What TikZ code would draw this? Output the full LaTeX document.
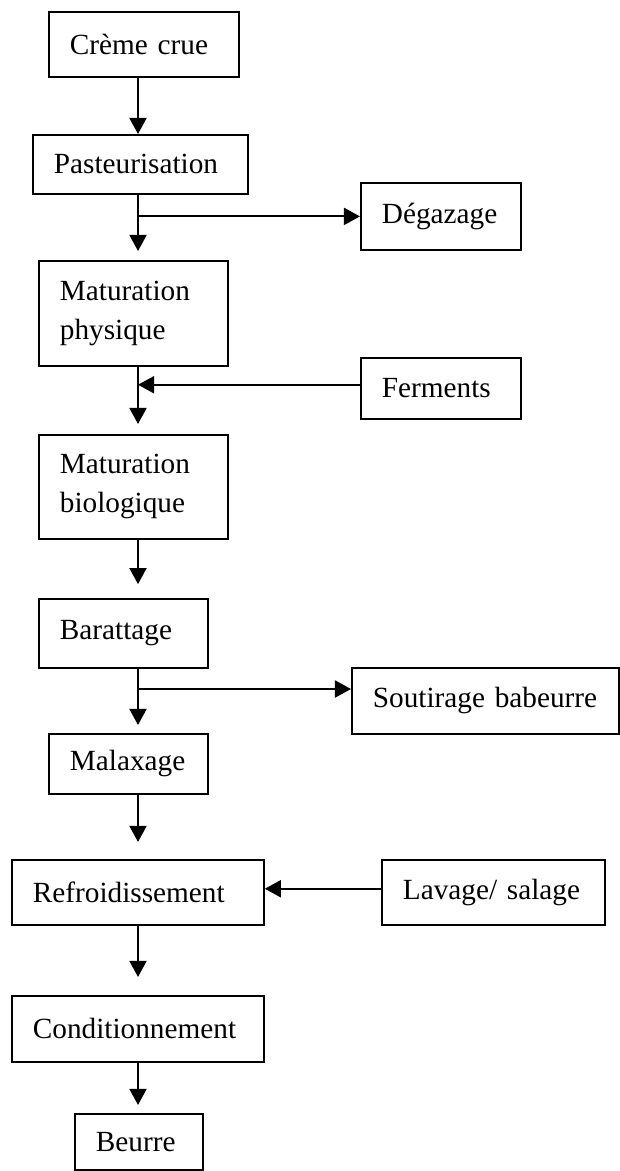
\documentclass[tikz,border=0pt]{standalone}
\usepackage{fontspec}
\setmainfont{Liberation Serif}
\usetikzlibrary{arrows.meta}

\begin{document}
\begin{tikzpicture}[
  x=0.41pt, y=-0.41pt,
  every node/.style={font=\fontsize{12}{16}\selectfont},
  stage/.style={draw, line width=0.75pt, anchor=north west, align=left, inner xsep=8.6pt, inner ysep=0pt},
  flow/.style={-{Triangle[length=6.6pt, width=7pt]}, line width=0.8pt}
]
\useasboundingbox (0,0) rectangle (620,1171);

% main line
\node[stage, text width=60.7pt, minimum height=26.65pt] (creme) at (48,11) {Crème crue};
\node[stage, text width=70.95pt, minimum height=24.19pt] (pasteur) at (32,134) {Pasteurisation};
\node[stage, text width=60.29pt, minimum height=43.05pt] (matphys) at (38,260) {Maturation\\physique};
\node[stage, text width=60.29pt, minimum height=42.64pt] (matbio) at (38,434) {Maturation\\biologique};
\node[stage, text width=52.09pt, minimum height=28.29pt] (baratt) at (38,598) {Barattage};
\node[stage, text width=47.99pt, minimum height=24.6pt] (malax) at (48,733) {Malaxage};
\node[stage, text width=86.12pt, minimum height=26.65pt] (refroid) at (11,859) {Refroidissement};
\node[stage, text width=86.12pt, minimum height=27.06pt] (condit) at (11,995) {Conditionnement};
\node[stage, text width=35.28pt, minimum height=22.96pt] (beurre) at (74,1113) {Beurre};

% side boxes
\node[stage, text width=48.4pt, minimum height=27.47pt] (degaz) at (360,182) {Dégazage};
\node[stage, text width=48.4pt, minimum height=25.01pt] (ferments) at (360,357) {Ferments};
\node[stage, text width=92.27pt, minimum height=27.06pt] (soutir) at (351,667) {Soutirage babeurre};
\node[stage, text width=74.23pt, minimum height=26.65pt] (lavage) at (381,859) {Lavage/ salage};

\coordinate (col) at (138,0);
\coordinate (tap) at (138,689);

\draw[flow] (creme.south -| col) -- (pasteur.north -| col);
\draw[flow, shorten >=3.7pt] (pasteur.south -| col) -- (matphys.north -| col);
\draw[flow, shorten >=4.1pt] (matphys.south -| col) -- (matbio.north -| col);
\draw[flow, shorten >=5.7pt] (matbio.south -| col) -- (baratt.north -| col);
\draw[flow, shorten >=3.3pt] (baratt.south -| col) -- (malax.north -| col);
\draw[flow, shorten >=7pt] (malax.south -| col) -- (refroid.north -| col);
\draw[flow, shorten >=7.4pt] (refroid.south -| col) -- (condit.north -| col);
\draw[flow, shorten >=3.3pt] (condit.south -| col) -- (beurre.north -| col);

\draw[flow] (degaz.west -| col) -- (degaz.west);
\draw[flow] ([yshift=1.5pt]ferments.west) -- ([yshift=1.5pt]ferments.west -| col);
\draw[flow] (tap) -- (tap -| soutir.west);
\draw[flow] ([yshift=1.5pt]lavage.west) -- ([yshift=1.5pt]refroid.east);
\end{tikzpicture}
\end{document}
